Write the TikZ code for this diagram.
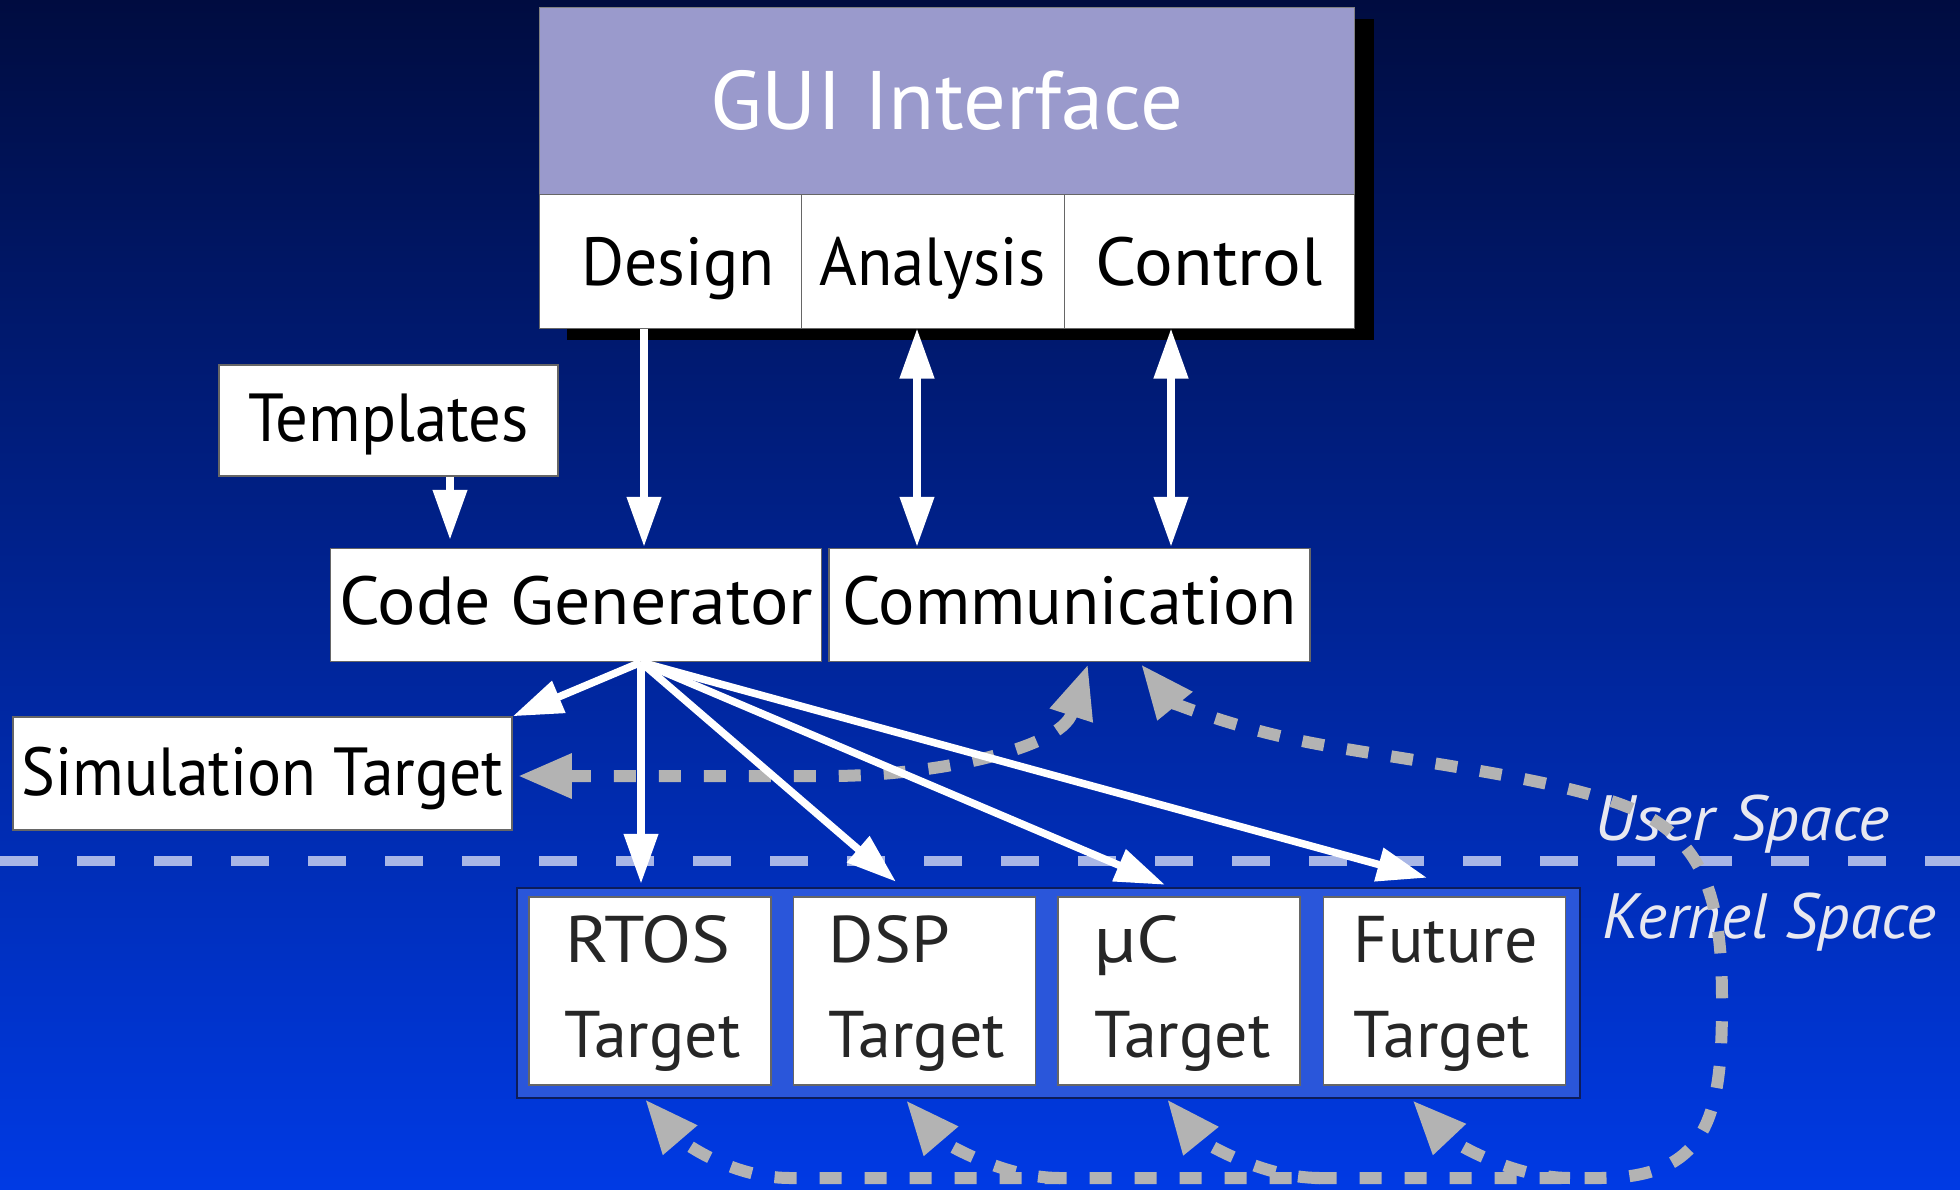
\documentclass[tikz,border=0pt]{standalone}
\usepackage{fontspec}
\usepackage{graphicx}
\setmainfont{PT Sans}
\usetikzlibrary{arrows.meta,calc}
\definecolor{bgtop}{RGB}{0,12,64}
\definecolor{bgbot}{RGB}{0,58,228}
\definecolor{guifill}{RGB}{154,154,204}
\definecolor{sepcol}{RGB}{168,182,230}
\definecolor{contfill}{RGB}{42,86,218}
\definecolor{contdraw}{RGB}{12,28,90}
\definecolor{graycol}{RGB}{179,179,179}
\definecolor{labcol}{RGB}{232,232,240}
\newcommand{\hsc}[2]{\scalebox{#1}[1]{#2}}
\begin{document}
\begin{tikzpicture}[x=1pt,y=-1pt,
  box/.style={draw=black!60, line width=1.5pt, fill=white, inner sep=0pt,
    text height=48pt, text depth=0pt, font=\fontsize{68}{68}\selectfont},
  tbox/.style={draw=black!60, line width=1.5pt, fill=white, inner sep=0pt,
    minimum width=242pt, minimum height=188pt},
  tlab/.style={anchor=base west, inner sep=0pt, text=black!85,
    font=\fontsize{66}{66}\selectfont},
  spacelab/.style={anchor=base west, inner sep=0pt, text=labcol,
    font=\fontsize{64}{64}\selectfont\itshape},
  wa/.style={draw=white, line width=7.5pt, -{Triangle[length=50pt,width=33pt]}},
  wab/.style={draw=white, line width=7.5pt, {Triangle[length=50pt,width=33pt]}-{Triangle[length=50pt,width=33pt]}},
  ga/.style={draw=graycol, line width=12pt, dash pattern=on 22pt off 23pt,
    -{Triangle[length=54pt,width=42pt]}},
  gab/.style={draw=graycol, line width=12pt, dash pattern=on 22pt off 23pt,
    {Triangle[length=54pt,width=42pt]}-{Triangle[length=54pt,width=42pt]}}
]
% background
\fill[top color=bgtop, bottom color=bgbot] (0,0) rectangle (1960,1189);
\useasboundingbox (0,0) rectangle (1960,1189);

% user / kernel separator
\draw[sepcol, line width=10pt, dash pattern=on 38pt off 39pt] (0,861) -- (1960,861);
\node[spacelab] (user) at (1594,840) {\hsc{1.04}{User Space}};
\node[spacelab] (kernel) at (1602,938) {Kernel Space};

% GUI block with shadow
\fill[black] (567,19) rectangle (1374,340);
\node[fill=guifill, draw=black!50, line width=1pt, inner sep=0pt,
  minimum width=815pt, minimum height=187pt, text=white,
  text height=58pt, text depth=0pt, font=\fontsize{83}{83}\selectfont]
  (gui) at (946.5,100.5) {\hsc{1.02}{GUI Interface}};
\node[box, minimum width=262pt, minimum height=134pt, line width=1pt] (design) at (670,261) {\hspace{16pt}\hsc{0.968}{Design}};
\node[box, minimum width=263pt, minimum height=134pt, line width=1pt] (analysis) at (932.5,261) {\hsc{0.95}{Analysis}};
\node[box, minimum width=290pt, minimum height=134pt, line width=1pt] (control) at (1209,261) {\hsc{1.066}{Control}};

% middle boxes
\node[box, minimum width=339pt, minimum height=111pt] (tpl) at (388.5,420.5) {\raisebox{3pt}{\hsc{0.953}{Templates}}};
\node[box, minimum width=491pt, minimum height=113pt] (cg) at (576,605) {\raisebox{5pt}{\hsc{1.056}{Code Generator}}};
\node[box, minimum width=481pt, minimum height=113pt] (comm) at (1069.5,605) {\raisebox{5pt}{Communication}};
\node[box, minimum width=499pt, minimum height=113pt] (sim) at (262.5,773.5) {\raisebox{2pt}{\hsc{0.937}{Simulation Target}}};

% targets container
\node[draw=contdraw, fill=contfill, line width=2.5pt, inner sep=0pt,
  minimum width=1063pt, minimum height=210pt] (cont) at (1048.5,993) {};
\node[tbox] (rtos) at (650,991) {};
\node[tbox] (dsp) at (914.5,991) {};
\node[tbox] (uc) at (1179,991) {};
\node[tbox] (fut) at (1444.5,991) {};
\node[tlab] at ($(rtos.north west)+(37,66)$) {\hsc{1.11}{RTOS}};
\node[tlab] at ($(rtos.north west)+(36,161)$) {Target};
\node[tlab] at ($(dsp.north west)+(36,66)$) {\hsc{1.05}{DSP}};
\node[tlab] at ($(dsp.north west)+(36,161)$) {Target};
\node[tlab] at ($(uc.north west)+(37,66)$) {\hsc{1.15}{µC}};
\node[tlab] at ($(uc.north west)+(37,161)$) {Target};
\node[tlab] at ($(fut.north west)+(31,66)$) {Future};
\node[tlab] at ($(fut.north west)+(31,161)$) {Target};

% gray dashed connectors
\coordinate (simbend) at (830,776);
\draw[gab] ($(sim.east)+(5,2.5)$) -- (simbend)
  .. controls (930,776) and (1060,750) .. ($(comm.south)+(18.5,2)$);
\draw[gab] ($(comm.south)+(71.5,2)$)
  .. controls (1170,700) and (1230,730) .. (1340,748)
  .. controls (1460,768) and (1570,782) .. (1635,810)
  .. controls (1705,842) and (1722,900) .. (1722,1000)
  .. controls (1722,1110) and (1712,1178) .. (1600,1178)
  -- (790,1178)
  .. controls (730,1178) and (680,1140) .. ($(rtos.south |- cont.south)+(-5,0)$);
\coordinate (busdsp) at (1060,1178);
\coordinate (busuc) at (1320,1178);
\coordinate (busfut) at (1570,1178);
\draw[ga] (busdsp) .. controls (1000,1178) and (940,1140) .. ($(dsp.south |- cont.south)+(-8.5,1)$);
\draw[ga] (busuc) .. controls (1260,1178) and (1200,1140) .. ($(uc.south |- cont.south)+(-12,0)$);
\draw[ga] (busfut) .. controls (1510,1178) and (1450,1140) .. ($(fut.south |- cont.south)+(-32,1)$);

% white connectors
\draw[wa] ($(design.south)+(-26,0)$) -- ($(cg.north)+(68,-1)$);
\draw[wa] ($(tpl.south)+(61.5,0)$) -- ($(cg.north)+(-126,-8)$);
\draw[wab] ($(analysis.south)+(-15.5,0)$) -- ($(comm.north)+(-152.5,-1)$);
\draw[wab] ($(control.south)+(-38,0)$) -- ($(comm.north)+(101.5,-1)$);
\coordinate (fo) at ($(cg.south)+(65,0)$);
\draw[wa] (fo) -- (sim.north east);
\draw[wa] (fo) -- ($(fo |- cont.north)+(0,-3)$);
\draw[wa] (fo) -- ($(dsp.north |- cont.north)+(-18.5,-5)$);
\draw[wa] (fo) -- ($(uc.north |- cont.north)+(-14,-2)$);
\draw[wa] (fo) -- ($(fut.north |- cont.north)+(-17.5,-9)$);
\end{tikzpicture}
\end{document}
